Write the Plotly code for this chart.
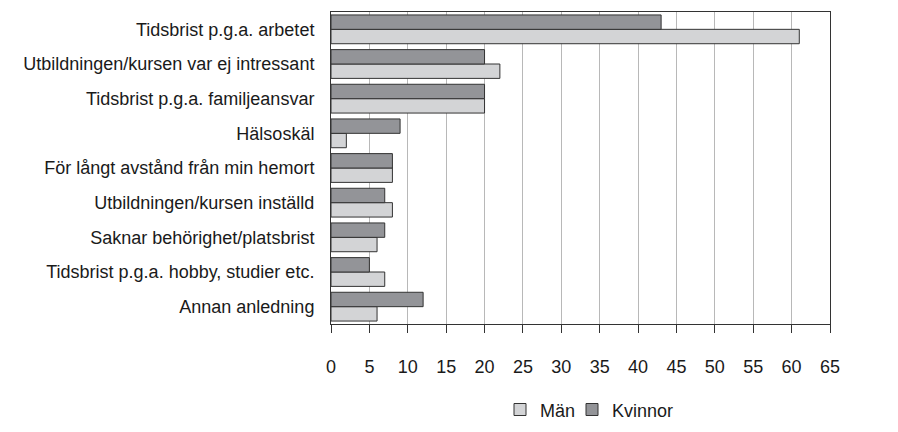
import plotly.graph_objects as go

categories = [
    "Tidsbrist p.g.a. arbetet",
    "Utbildningen/kursen var ej intressant",
    "Tidsbrist p.g.a. familjeansvar",
    "Hälsoskäl",
    "För långt avstånd från min hemort",
    "Utbildningen/kursen inställd",
    "Saknar behörighet/platsbrist",
    "Tidsbrist p.g.a. hobby, studier etc.",
    "Annan anledning",
]
man = [61, 22, 20, 2, 8, 8, 6, 7, 6]
kvinnor = [43, 20, 20, 9, 8, 7, 7, 5, 12]
x_ticks = list(range(0, 70, 5))

FONT = "Liberation Sans, Arial, sans-serif"

fig = go.Figure()
fig.add_trace(go.Bar(
    y=categories, x=man, name="Män", orientation="h", legend="legend",
    marker=dict(color="#d3d4d6", line=dict(color="#333333", width=1)),
))
fig.add_trace(go.Bar(
    y=categories, x=kvinnor, name="Kvinnor", orientation="h", legend="legend2",
    marker=dict(color="#939498", line=dict(color="#333333", width=1)),
))

leg_common = dict(orientation="h", xanchor="left", y=-0.275, yanchor="middle",
                  font=dict(size=18), bgcolor="rgba(0,0,0,0)")

fig.update_layout(
    width=890, height=424,
    margin=dict(l=323, r=68, t=4, b=95),
    paper_bgcolor="white", plot_bgcolor="white",
    barmode="group", bargap=0.17, bargroupgap=0,
    font=dict(family=FONT, size=18, color="#1a1a1a"),
    showlegend=True,
    legend=dict(x=(500 - 331) / 499, **leg_common),
    legend2=dict(x=(572 - 331) / 499, **leg_common),
)
fig.update_xaxes(
    range=[0, 65], tickvals=x_ticks, ticktext=[str(v) for v in x_ticks],
    showgrid=True, gridcolor="#b8b8b8", gridwidth=1,
    showline=True, linecolor="#333333", linewidth=1, mirror=True,
    ticks="outside", ticklen=8, tickcolor="#333333",
    ticklabelstandoff=18, zeroline=False, automargin=False,
)
fig.update_yaxes(
    categoryorder="array", categoryarray=categories[::-1],
    showline=True, linecolor="#333333", linewidth=1, mirror=True,
    ticks="", ticklabelstandoff=12, automargin=False,
)

fig.write_html("out.html")
